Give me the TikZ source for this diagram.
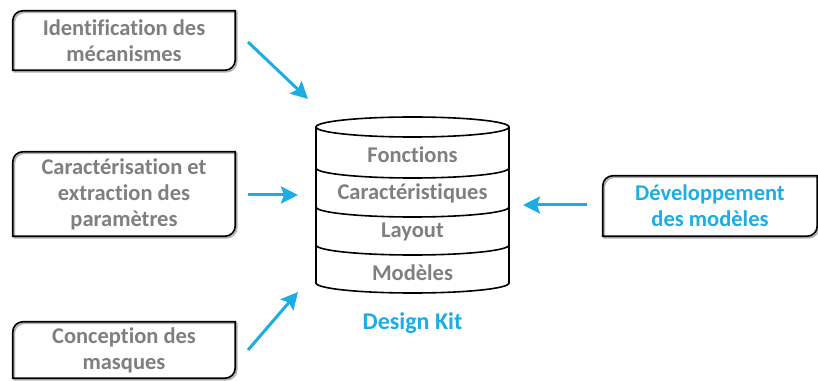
\documentclass[tikz,border=0pt]{standalone}
\usepackage{fontspec}
\setmainfont[Ligatures=NoCommon]{Carlito}
\usetikzlibrary{arrows.meta}
\definecolor{kitblue}{HTML}{1CADE4}
\definecolor{txtgray}{HTML}{7F7F7F}
\newcommand\snipbox[1]{%
  \draw[boxshadow] ([shift={(1.5pt,-1.5pt)}]#1.south west) -- ([shift={(1.5pt,-11.5pt)}]#1.north west) arc[start angle=180,end angle=90,radius=10pt] -- ([shift={(1.5pt,-1.5pt)}]#1.north east) -- ([shift={(1.5pt,8.5pt)}]#1.south east) arc[start angle=0,end angle=-90,radius=10pt] -- cycle;
  \draw[boxline] (#1.south west) -- ([yshift=-10pt]#1.north west) arc[start angle=180,end angle=90,radius=10pt] -- (#1.north east) -- ([yshift=10pt]#1.south east) arc[start angle=0,end angle=-90,radius=10pt] -- cycle;}
\begin{document}
\begin{tikzpicture}[x=1pt,y=1pt,
  boxline/.style={line width=1.7pt,black},
  boxshadow/.style={line width=1.7pt,black!30},
  tbox/.style={inner sep=0pt,align=center,font=\bfseries\fontsize{22.5}{26}\selectfont,text=txtgray},
  layer/.style={inner sep=0pt,font=\bfseries\fontsize{22.5}{26}\selectfont,text=txtgray},
  flow/.style={line width=3pt,kitblue,-{Stealth[length=17pt,width=17pt,inset=3pt]}},
  cyl/.style={line width=1.6pt,black}]
\useasboundingbox (0,0) rectangle (818,380);
% boxes
\node[tbox,minimum width=222pt,minimum height=59pt] (b1) at (124,339.5) {Identification des\\mécanismes};
\node[tbox,minimum width=222pt,minimum height=84pt] (b2) at (124,186) {Caractérisation et\\extraction des\\paramètres};
\node[tbox,minimum width=222pt,minimum height=56pt] (b3) at (124,30) {Conception des\\masques};
\node[tbox,text=kitblue,minimum width=214pt,minimum height=60pt] (b4) at (710,174) {Développement\\des modèles};
\snipbox{b1}\snipbox{b2}\snipbox{b3}\snipbox{b4}
% cylinder
\draw[cyl] (316,253) -- (316,97) arc[start angle=180,end angle=360,x radius=96.5,y radius=10] -- (509,253);
\draw[cyl] (412.5,253) ellipse[x radius=96.5,y radius=10];
\foreach \yy in {212,173,135}
  \draw[cyl] (316,\yy) arc[start angle=180,end angle=360,x radius=96.5,y radius=10];
\node[layer] (l1) at (412.5,225) {Fonctions};
\node[layer] (l2) at (412.5,187) {Caractéristiques};
\node[layer] (l3) at (412.5,148) {Layout};
\node[layer] (l4) at (412.5,107) {Modèles};
\node[layer,text=kitblue,font=\bfseries\fontsize{24}{28}\selectfont] (dk) at (412.5,57) {Design Kit};
% arrows
\coordinate (a1s) at (248,338); \coordinate (a1e) at (308,281);
\coordinate (a2s) at (248,185); \coordinate (a2e) at (298,185);
\coordinate (a3s) at (248,30);  \coordinate (a3e) at (298,88);
\coordinate (a4s) at (587,175); \coordinate (a4e) at (523,175);
\draw[flow] (a1s) -- (a1e);
\draw[flow] (a2s) -- (a2e);
\draw[flow] (a3s) -- (a3e);
\draw[flow] (a4s) -- (a4e);
\end{tikzpicture}
\end{document}
